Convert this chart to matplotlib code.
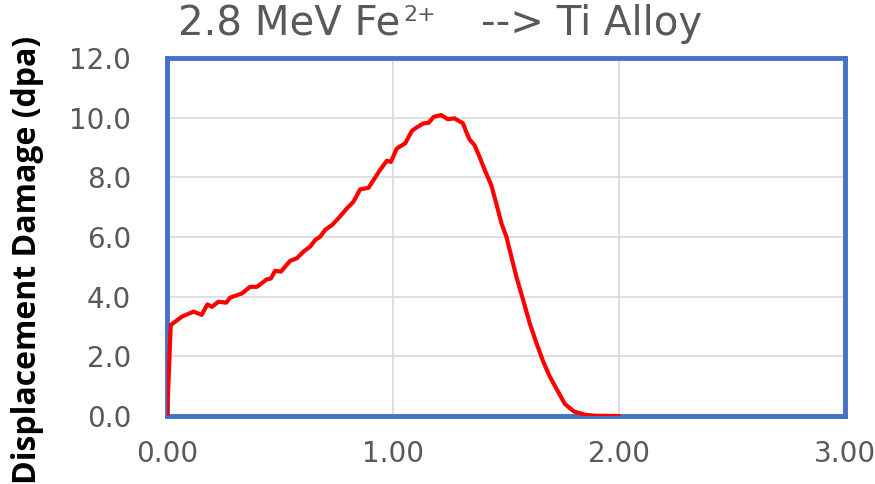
import matplotlib
matplotlib.use("Agg")
import matplotlib.pyplot as plt

depth_um = [0.0, 0.016, 0.065, 0.117, 0.153, 0.178, 0.198, 0.227, 0.261, 0.279, 0.331,
            0.367, 0.397, 0.441, 0.459, 0.478, 0.503, 0.544, 0.574, 0.603, 0.633,
            0.655, 0.677, 0.699, 0.729, 0.758, 0.795, 0.824, 0.854, 0.891, 0.913,
            0.942, 0.972, 0.990, 1.016, 1.053, 1.083, 1.105, 1.134, 1.157, 1.179,
            1.212, 1.242, 1.271, 1.309, 1.323, 1.338, 1.360, 1.382, 1.405, 1.434,
            1.456, 1.479, 1.501, 1.523, 1.545, 1.575, 1.604, 1.634, 1.664, 1.693,
            1.730, 1.760, 1.800, 1.850, 1.890, 2.000]
dpa = [0.0, 3.05, 3.33, 3.50, 3.39, 3.74, 3.66, 3.83, 3.80, 3.97, 4.11,
       4.33, 4.33, 4.58, 4.61, 4.87, 4.84, 5.20, 5.29, 5.51, 5.68,
       5.90, 6.01, 6.24, 6.40, 6.63, 6.96, 7.18, 7.60, 7.65, 7.91,
       8.25, 8.56, 8.52, 8.97, 9.14, 9.56, 9.68, 9.81, 9.83, 10.03,
       10.09, 9.95, 9.98, 9.81, 9.53, 9.27, 9.08, 8.69, 8.25, 7.74,
       7.13, 6.46, 6.01, 5.34, 4.67, 3.89, 3.11, 2.44, 1.82, 1.32,
       0.81, 0.40, 0.15, 0.04, 0.01, 0.0]

x_ticks = [0.0, 1.0, 2.0, 3.0]
x_labels = ["0.00", "1.00", "2.00", "3.00"]
y_ticks = [0, 2, 4, 6, 8, 10, 12]
y_labels = ["0.0", "2.0", "4.0", "6.0", "8.0", "10.0", "12.0"]

fig = plt.figure(figsize=(8.75, 4.84), dpi=100)
ax = fig.add_axes([0.191, 0.1405, 0.775, 0.7395])

ax.plot(depth_um, dpa, color="#FF0000", lw=3.0, solid_joinstyle="round",
        solid_capstyle="round", zorder=3)
ax.set_xlim(0, 3)
ax.set_ylim(0, 12)
ax.set_xticks(x_ticks)
ax.set_xticklabels(x_labels)
ax.set_yticks(y_ticks)
ax.set_yticklabels(y_labels)
ax.grid(True, color="#D9D9D9", lw=1.2, zorder=0)
ax.tick_params(length=0, labelsize=20, labelcolor="#595959")
ax.tick_params(axis="y", pad=26)
ax.tick_params(axis="x", pad=17)
for lab in ax.get_xticklabels() + ax.get_yticklabels():
    lab.set_family(["DejaVu Sans"])
for s in ax.spines.values():
    s.set_color("#4472C4")
    s.set_linewidth(3.5)

fig.text(0.032, 0.463, "Displacement Damage (dpa)", rotation=90, ha="center", va="center",
         fontsize=23, fontweight="bold", family=["Open Sans", "DejaVu Sans"], color="black")

title_kw = dict(color="#595959", family=["DejaVu Sans"])
t1 = fig.text(178 / 875, 1 - 35 / 484, "2.8 MeV Fe", ha="left", va="baseline",
              fontsize=29, **title_kw)
t2 = ax.annotate("2+", xy=(1.0, 1 - 21 / 484), xycoords=(t1, "figure fraction"),
                 xytext=(2, 0), textcoords="offset points", ha="left", va="baseline",
                 fontsize=16, annotation_clip=False, **title_kw)
t3 = fig.text(481 / 875, 1 - 35 / 484, "--> Ti Alloy", ha="left", va="baseline",
              fontsize=29, **title_kw)

fig.savefig("out.png", dpi=100)
